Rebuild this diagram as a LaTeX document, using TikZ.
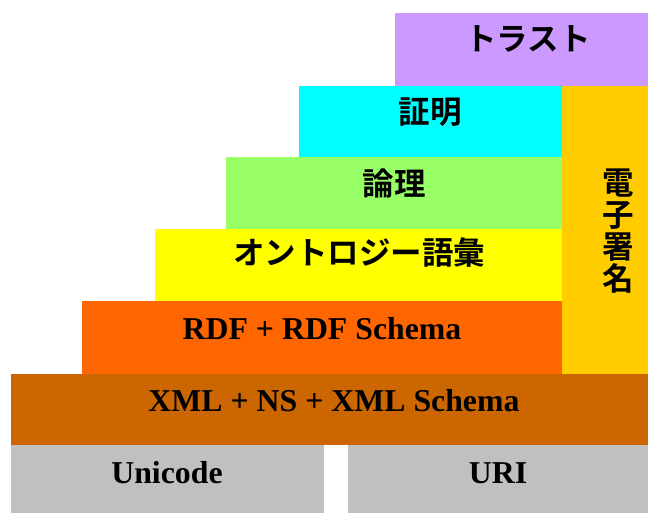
\documentclass[tikz,border=0pt]{standalone}
\usepackage{fontspec}
\setmainfont{Liberation Serif}
\newfontfamily\cjk{Noto Sans CJK JP}[BoldFont={Noto Sans CJK JP Bold}]
\definecolor{ctrust}{HTML}{CC99FF}
\definecolor{cproof}{HTML}{00FFFF}
\definecolor{csig}{HTML}{FFCC00}
\definecolor{clogic}{HTML}{99FF66}
\definecolor{conto}{HTML}{FFFF00}
\definecolor{crdf}{HTML}{FF6600}
\definecolor{cxml}{HTML}{CC6600}
\definecolor{cbase}{HTML}{C0C0C0}
\tikzset{
  lat/.style={anchor=base, inner sep=0pt, font=\fontsize{31.8}{32}\selectfont\bfseries},
  jp/.style={anchor=base, inner sep=0pt, font=\cjk\fontsize{31.5}{32}\selectfont\bfseries},
}
\begin{document}
\begin{tikzpicture}[x=1pt,y=-1pt]
\useasboundingbox (0,0) rectangle (648,513);
\fill[white] (0,0) rectangle (648,513);
% layers
\fill[ctrust] (395,13) rectangle (648,86);
\fill[cproof] (299,86) rectangle (562,157);
\fill[csig] (562,86) rectangle (648,374);
\fill[clogic] (226,157) rectangle (562,229);
\fill[conto] (155,229) rectangle (562,301);
\fill[crdf] (82,301) rectangle (562,374);
\fill[cxml] (11,374) rectangle (648,445);
\fill[cbase] (11,445) rectangle (324,513);
\fill[cbase] (348,445) rectangle (648,513);
% labels
\node[jp] (trust) at (528,51) {トラスト};
\node[jp] (proof) at (430,124) {証明};
\node[jp] (logic) at (394,196) {論理};
\node[jp] (onto) at (359,265) {オントロジー語彙};
\node[anchor=center, inner sep=0pt, align=center, font=\cjk\fontsize{31.5}{32}\selectfont\bfseries] (sig) at (618,231) {電\\子\\署\\名};
\node[lat] (rdf) at (322,339) {RDF + RDF Schema};
\node[lat] (xml) at (334,411) {XML + NS + XML Schema};
\node[lat] (uni) at (167,483) {Unicode};
\node[lat] (uri) at (498,483) {URI};
\end{tikzpicture}
\end{document}
